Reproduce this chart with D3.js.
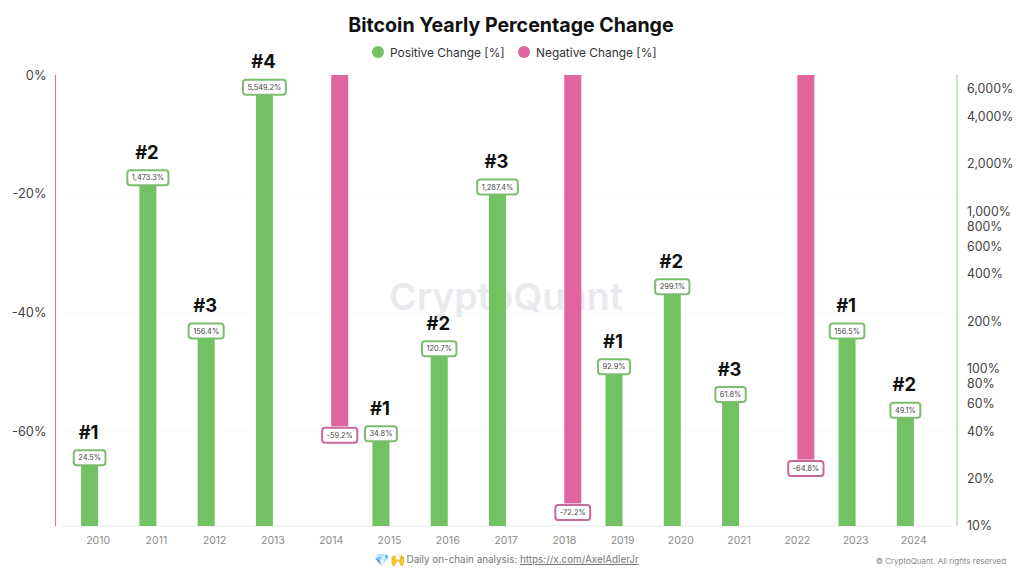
<!DOCTYPE html>
<html>
<head>
<meta charset="utf-8">
<script src="https://cdn.jsdelivr.net/npm/d3@7/dist/d3.min.js"></script>
<style>
    body { margin: 0; background: #fff; }
    text { font-family: Inter, "Noto Sans", sans-serif; }
    .axis path, .axis line { display: none; }
</style>
</head>
<body>
<div id="chart"></div>
<script>
var years = ["2010", "2011", "2012", "2013", "2014", "2015", "2016", "2017", "2018", "2019", "2020", "2021", "2022", "2023", "2024"];
var seriesNames = ["Positive Change [%]", "Negative Change [%]"];
var positiveValues = [24.5, 1473.3, 156.4, 5549.2, null, 34.8, 120.7, 1287.4, null, 92.9, 299.1, 61.8, null, 156.5, 49.1];
var negativeValues = [null, null, null, null, -59.2, null, null, null, -72.2, null, null, null, -64.8, null, null];
var ranks = ["#1", "#2", "#3", "#4", null, "#1", "#2", "#3", null, "#1", "#2", "#3", null, "#1", "#2"];
var leftTicks = [0, -20, -40, -60];
var rightTicks = [10, 20, 40, 60, 80, 100, 200, 400, 600, 800, 1000, 2000, 4000, 6000];

var green = "#72c162";
var pink = "#e0659f";
var width = 1024, height = 574;
var top_ = 75, bottom = 526, left = 55.5, right = 957;

var svg = d3.select("#chart").append("svg")
    .attr("width", width)
    .attr("height", height)
    .style("display", "block");

var x = d3.scaleBand().domain(years).range([69, 943]).paddingInner(0.416).paddingOuter(0.208);
var inner = d3.scaleBand().domain(seriesNames).range([0, x.bandwidth()]);
var yNeg = d3.scaleLinear().domain([0, -76]).range([top_, bottom]);
var yPos = d3.scaleLog().domain([10, 7345]).range([bottom, top_]);

// grid
svg.append("g").selectAll("line")
    .data(leftTicks.slice(1))
    .enter().append("line")
    .attr("x1", 62).attr("x2", 953)
    .attr("y1", function (d) { return yNeg(d); })
    .attr("y2", function (d) { return yNeg(d); })
    .style("stroke", "#fafafa");

// watermark
svg.append("text")
    .attr("x", 506).attr("y", 310)
    .attr("text-anchor", "middle")
    .style("font-size", "37.5px")
    .style("font-weight", 600)
    .style("fill", "#e9e9ee")
    .text("CryptoQuant");

// title
svg.append("text")
    .attr("x", 511).attr("y", 32)
    .attr("text-anchor", "middle")
    .style("font-size", "19.6px")
    .style("font-weight", 700)
    .style("fill", "#111")
    .text("Bitcoin Yearly Percentage Change");

// legend
var legendX = [378, 524];
seriesNames.forEach(function (name, i) {
    svg.append("circle")
        .attr("cx", legendX[i]).attr("cy", 52).attr("r", 6)
        .style("fill", i == 0 ? green : pink);
    svg.append("text")
        .attr("x", legendX[i] + 12).attr("y", 56.5)
        .style("font-size", "11.9px")
        .style("fill", "#333")
        .text(name);
});

// axes
var xAxis = svg.append("g")
    .attr("class", "axis")
    .attr("transform", "translate(0," + bottom + ")")
    .call(d3.axisBottom(x).tickSize(0).tickPadding(11));
xAxis.selectAll("text").style("font-size", "10.5px").style("fill", "#8a8a8a");

var leftAxis = svg.append("g")
    .attr("class", "axis")
    .attr("transform", "translate(" + left + ",0)")
    .call(d3.axisLeft(yNeg).tickValues(leftTicks).tickSize(0).tickPadding(9)
        .tickFormat(function (d) { return d + "%"; }));
leftAxis.selectAll("text").style("font-size", "12.8px").style("fill", "#444");

var rightAxis = svg.append("g")
    .attr("class", "axis")
    .attr("transform", "translate(" + right + ",0)")
    .call(d3.axisRight(yPos).tickValues(rightTicks).tickSize(0).tickPadding(10)
        .tickFormat(function (d) { return d3.format(",")(d) + "%"; }));
rightAxis.selectAll("text").style("font-size", "12.4px").style("fill", "#444");

svg.append("line").attr("x1", 62).attr("x2", 953).attr("y1", bottom).attr("y2", bottom)
    .style("stroke", "#e6e6ea");
svg.append("line").attr("x1", left).attr("x2", left).attr("y1", top_).attr("y2", bottom)
    .style("stroke", "#c97f9f").style("stroke-width", 1.2);
svg.append("line").attr("x1", right).attr("x2", right).attr("y1", top_).attr("y2", bottom)
    .style("stroke", "#a5cfa0").style("stroke-width", 1.2);

// bars
var rows = years.map(function (year, i) {
    return { year: year, pos: positiveValues[i], neg: negativeValues[i], rank: ranks[i] };
});

svg.append("g").selectAll("rect")
    .data(rows.filter(function (d) { return d.pos != null; }))
    .enter().append("rect")
    .attr("x", function (d) { return x(d.year) + inner(seriesNames[0]); })
    .attr("y", function (d) { return yPos(d.pos); })
    .attr("width", inner.bandwidth())
    .attr("height", function (d) { return bottom - yPos(d.pos); })
    .style("fill", green);

svg.append("g").selectAll("rect")
    .data(rows.filter(function (d) { return d.neg != null; }))
    .enter().append("rect")
    .attr("x", function (d) { return x(d.year) + inner(seriesNames[1]); })
    .attr("y", top_)
    .attr("width", inner.bandwidth())
    .attr("height", function (d) { return yNeg(d.neg) - top_; })
    .style("fill", pink);

// value labels, sized to their text
function valueLabel(cx, cy, txt, color) {
    var g = svg.append("g");
    var box = g.append("rect");
    var t = g.append("text")
        .attr("x", cx).attr("y", cy + 2.6)
        .attr("text-anchor", "middle")
        .style("font-size", "7.4px")
        .style("fill", "#444")
        .text(txt);
    var w = t.node().getComputedTextLength() + 9;
    box.attr("x", cx - w / 2).attr("y", cy - 7.5)
        .attr("width", w).attr("height", 15)
        .attr("rx", 3)
        .style("fill", "#fff")
        .style("stroke", color)
        .style("stroke-width", 2);
}

rows.forEach(function (d) {
    if (d.pos != null) {
        var cx = x(d.year) + inner(seriesNames[0]) + inner.bandwidth() / 2;
        var cy = yPos(d.pos) - 7;
        valueLabel(cx, cy, d3.format(",.1f")(d.pos) + "%", "#7dbd70");
        svg.append("text")
            .attr("x", cx - 1).attr("y", cy - 19)
            .attr("text-anchor", "middle")
            .style("font-size", "18.4px")
            .style("font-weight", 700)
            .style("fill", "#111")
            .text(d.rank);
    }
    if (d.neg != null) {
        var px = x(d.year) + inner(seriesNames[1]) + inner.bandwidth() / 2;
        valueLabel(px, yNeg(d.neg) + 9, d.neg.toFixed(1) + "%", "#c9689a");
    }
});

// footer
svg.append("text")
    .attr("x", 374).attr("y", 564)
    .style("font-size", "12.5px")
    .text("\uD83D\uDC8E\uD83D\uDE4C");
var footer = svg.append("text")
    .attr("x", 406.5).attr("y", 563)
    .style("font-size", "9.9px")
    .style("fill", "#777");
footer.append("tspan").text("Daily on-chain analysis: ");
footer.append("tspan").style("text-decoration", "underline").text("https://x.com/AxelAdlerJr");

svg.append("text")
    .attr("x", 1006).attr("y", 563.5)
    .attr("text-anchor", "end")
    .style("font-size", "7.95px")
    .style("fill", "#888")
    .text("\u00A9 CryptoQuant. All rights reserved");
</script>
</body>
</html>
